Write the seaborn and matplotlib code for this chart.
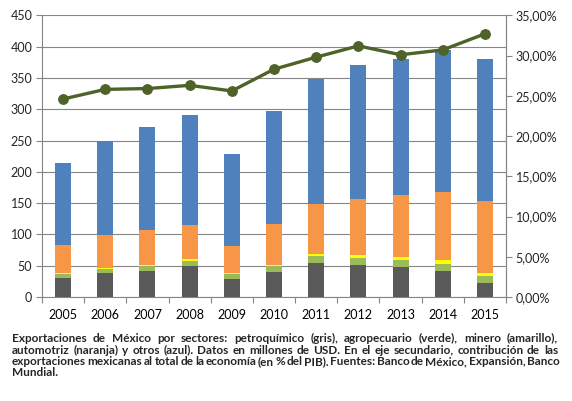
import matplotlib
matplotlib.use("Agg")
import matplotlib.pyplot as plt
import matplotlib.ticker as mticker
import numpy as np
import pandas as pd
import seaborn as sns

years = ["2005", "2006", "2007", "2008", "2009", "2010",
         "2011", "2012", "2013", "2014", "2015"]
petroquimico = [31, 39, 42, 50, 29, 40, 54, 51, 48.5, 42, 22]
agropecuario = [5, 6, 7.5, 8, 7, 9, 11.5, 11, 10.5, 10.7, 12]
minero = [2, 2, 1.5, 2, 2, 2, 3.5, 4.5, 5, 6.3, 5]
automotriz = [45, 52, 56, 55, 44, 66, 80, 90, 99, 109, 114]
otros = [131, 150, 165, 176, 146, 180, 200, 214, 217, 227, 227]
pib_pct = [24.6, 25.8, 25.9, 26.3, 25.6, 28.3, 29.8, 31.2, 30.1, 30.7, 32.7]

caption_lines = [
    "Exportaciones de México por sectores: petroquímico (gris), agropecuario (verde), minero (amarillo),",
    "automotriz (naranja) y otros (azul). Datos en millones de USD. En el eje secundario, contribución de las",
    "exportaciones mexicanas al total de la economía (en % del PIB). Fuentes: Banco de México, Expansión, Banco",
    "Mundial.",
]

sns.set_style("white")
plt.rcParams["font.family"] = ["Lato", "DejaVu Sans"]

grid_col = "#868686"
layers = [("otros", "#4F81BD"),
          ("automotriz", "#F79646"),
          ("minero", "#FFFF00"),
          ("agropecuario", "#9BBB59"),
          ("petroquimico", "#595959")]

# cumulative heights, drawn tallest first so each layer covers the one above it
stack = np.array([petroquimico, agropecuario, minero, automotriz, otros])
cum = np.cumsum(stack, axis=0)[::-1]

fig = plt.figure(figsize=(5.72, 4.01), dpi=100)
ax = fig.add_axes([0.0734, 0.2594, 0.8112, 0.7024])

for (name, col), heights in zip(layers, cum):
    df = pd.DataFrame({"year": years, "value": heights})
    sns.barplot(data=df, x="year", y="value", color=col, width=0.38,
                saturation=1, linewidth=0, ax=ax, zorder=3)

ax.set_xlim(-0.5, 10.5)
ax.set_ylim(0, 450)
ax.set_yticks(np.arange(0, 451, 50))
ax.yaxis.grid(True, color=grid_col, lw=0.8, zorder=0)
ax.set_axisbelow(True)
ax.set_xlabel("")
ax.set_ylabel("")
ax.set_xticks(np.arange(-0.5, 11, 1), minor=False)
ax.set_xticklabels([])
ax.set_xticks(np.arange(0, 11), minor=True)
ax.set_xticklabels(years, minor=True)
ax.tick_params(axis="x", which="major", length=4, color=grid_col, direction="out", bottom=True)
ax.tick_params(axis="x", which="minor", length=0, labelsize=9, pad=9, colors="black")
ax.tick_params(axis="y", length=4, color=grid_col, labelsize=9, pad=3, left=True)
ax.spines["top"].set_visible(False)
for s in ["left", "bottom", "right"]:
    ax.spines[s].set_color(grid_col)
    ax.spines[s].set_linewidth(0.8)

ax2 = ax.twinx()
line_df = pd.DataFrame({"pos": np.arange(len(years)), "pct": np.array(pib_pct) / 100})
sns.lineplot(data=line_df, x="pos", y="pct", ax=ax2, color="#4F6228", lw=2.4,
             marker="o", markersize=7, markeredgecolor="#4F6228", zorder=5)
ax2.set_ylim(0, 0.35)
ax2.set_yticks(np.arange(0, 0.351, 0.05))
ax2.yaxis.set_major_formatter(mticker.FuncFormatter(lambda v, p: f"{v*100:.2f}%".replace(".", ",")))
ax2.tick_params(axis="y", length=4, color=grid_col, labelsize=9, pad=3)
ax2.set_xlabel("")
ax2.set_ylabel("")
for s in ["top", "left", "bottom"]:
    ax2.spines[s].set_visible(False)
ax2.spines["right"].set_color(grid_col)
ax2.spines["right"].set_linewidth(0.8)
ax2.set_xlim(-0.5, 10.5)

# justified caption below the chart
fig.canvas.draw()
renderer = fig.canvas.get_renderer()
x0, x1 = 12 / 572, 558 / 572
ys = [338, 350, 361.5, 373]
fs = 8.5
for i, (line, ypix) in enumerate(zip(caption_lines, ys)):
    y = 1 - ypix / 401
    words = line.split(" ")
    if i == len(caption_lines) - 1:
        fig.text(x0, y, line, fontsize=fs, fontweight="bold", va="center", ha="left")
        continue
    arts = [fig.text(0, y, w, fontsize=fs, fontweight="bold", va="center", ha="left") for w in words]
    widths = [a.get_window_extent(renderer).width / fig.bbox.width for a in arts]
    gap = max((x1 - x0 - sum(widths)) / (len(words) - 1), 1.5 / 572)
    x = x0
    for a, w in zip(arts, widths):
        a.set_x(x)
        x += w + gap

fig.savefig("out.png", dpi=100)
